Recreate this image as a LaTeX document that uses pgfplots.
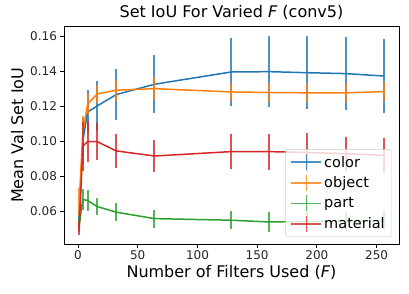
\documentclass[border=0pt]{standalone}
\usepackage{fontspec}
\setmainfont{DejaVu Sans}
\usepackage{pgfplots}
\pgfplotsset{compat=1.18}
\definecolor{tblue}{HTML}{1F77B4}
\definecolor{torange}{HTML}{FF7F0E}
\definecolor{tgreen}{HTML}{2CA02C}
\definecolor{tred}{HTML}{D62728}
\pgfplotsset{
  ebar/.style={line width=1.5pt, mark=none, color=#1,
    error bars/.cd, y dir=both, y explicit, error mark=none,
    error bar style={line width=2pt, opacity=0.8, color=#1},
    /pgfplots/legend image code/.code={
      \draw[line width=1.6pt, color=#1, opacity=0.8] (0pt,0pt) -- (30pt,0pt);
      \draw[line width=1.6pt, color=#1, opacity=0.8] (15pt,-8pt) -- (15pt,8pt);}
  }
}
\begin{document}
\begin{tikzpicture}
\begin{axis}[
  scale only axis, width=335pt, height=217.3pt,
  anchor=south west, at={(0pt,0pt)},
  xmin=-11.75, xmax=268.75, ymin=0.0411, ymax=0.1653,
  xtick={0,50,100,150,200,250},
  ytick={0.06,0.08,0.10,0.12,0.14,0.16},
  yticklabel style={/pgf/number format/.cd, fixed, fixed zerofill, precision=2},
  /pgf/number format/assume math mode=true,
  tick label style={font=\fontsize{12}{14}\selectfont, color=black!85},
  tick align=outside, xtick pos=bottom, ytick pos=left,
  major tick length=3.5pt, tick style={black, line width=0.8pt},
  axis line style={line width=0.8pt},
  title={Set IoU For Varied \textit{F} (conv5)},
  title style={font=\fontsize{16}{18}\selectfont, yshift=-2pt},
  xlabel={Number of Filters Used (\textit{F})},
  ylabel={Mean Val Set IoU},
  label style={font=\fontsize{16}{18}\selectfont},
  xlabel style={yshift=2pt},
  ylabel style={yshift=0pt},
  legend style={at={(0.979,0.032)}, anchor=south east, draw=black!20,
    rounded corners=2pt, fill=white, fill opacity=0.8, text opacity=1,
    font=\fontsize{14.5}{16}\selectfont, row sep=3pt, inner xsep=5pt, inner ysep=4pt},
  legend cell align=left,
]
\addplot[ebar=tblue] coordinates {
 (1,0.057) +- (0,0.003)
 (4,0.100) +- (0,0.013)
 (8,0.1165) +- (0,0.0125)
 (16,0.120) +- (0,0.0142)
 (32,0.1265) +- (0,0.0148)
 (64,0.1324) +- (0,0.0166)
 (128,0.1394) +- (0,0.0195)
 (160,0.1396) +- (0,0.0204)
 (192,0.1390) +- (0,0.021)
 (224,0.1385) +- (0,0.021)
 (256,0.1371) +- (0,0.021)
};
\addlegendentry{color}
\addplot[ebar=torange] coordinates {
 (1,0.065) +- (0,0.008)
 (4,0.105) +- (0,0.009)
 (8,0.121) +- (0,0.0057)
 (16,0.1269) +- (0,0.005)
 (32,0.129) +- (0,0.006)
 (64,0.1299) +- (0,0.0067)
 (128,0.128) +- (0,0.0054)
 (160,0.1277) +- (0,0.0055)
 (192,0.1275) +- (0,0.0055)
 (224,0.1275) +- (0,0.0055)
 (256,0.1282) +- (0,0.0055)
};
\addlegendentry{object}
\addplot[ebar=tgreen] coordinates {
 (1,0.052) +- (0,0.004)
 (4,0.0665) +- (0,0.006)
 (8,0.066) +- (0,0.0059)
 (16,0.0625) +- (0,0.005)
 (32,0.0593) +- (0,0.005)
 (64,0.0556) +- (0,0.0052)
 (128,0.0547) +- (0,0.0052)
 (160,0.0537) +- (0,0.0055)
 (192,0.0540) +- (0,0.0055)
 (224,0.0540) +- (0,0.0055)
 (256,0.0545) +- (0,0.0055)
};
\addlegendentry{part}
\addplot[ebar=tred] coordinates {
 (1,0.050) +- (0,0.004)
 (4,0.097) +- (0,0.014)
 (8,0.0996) +- (0,0.0116)
 (16,0.0996) +- (0,0.0107)
 (32,0.0943) +- (0,0.0096)
 (64,0.0914) +- (0,0.009)
 (128,0.0939) +- (0,0.010)
 (160,0.0939) +- (0,0.0103)
 (192,0.0934) +- (0,0.011)
 (224,0.0927) +- (0,0.0098)
 (256,0.0918) +- (0,0.010)
};
\addlegendentry{material}
\end{axis}
\pgfresetboundingbox
\path (-64pt,-50pt) rectangle (345pt,244pt);
\end{tikzpicture}
\end{document}
